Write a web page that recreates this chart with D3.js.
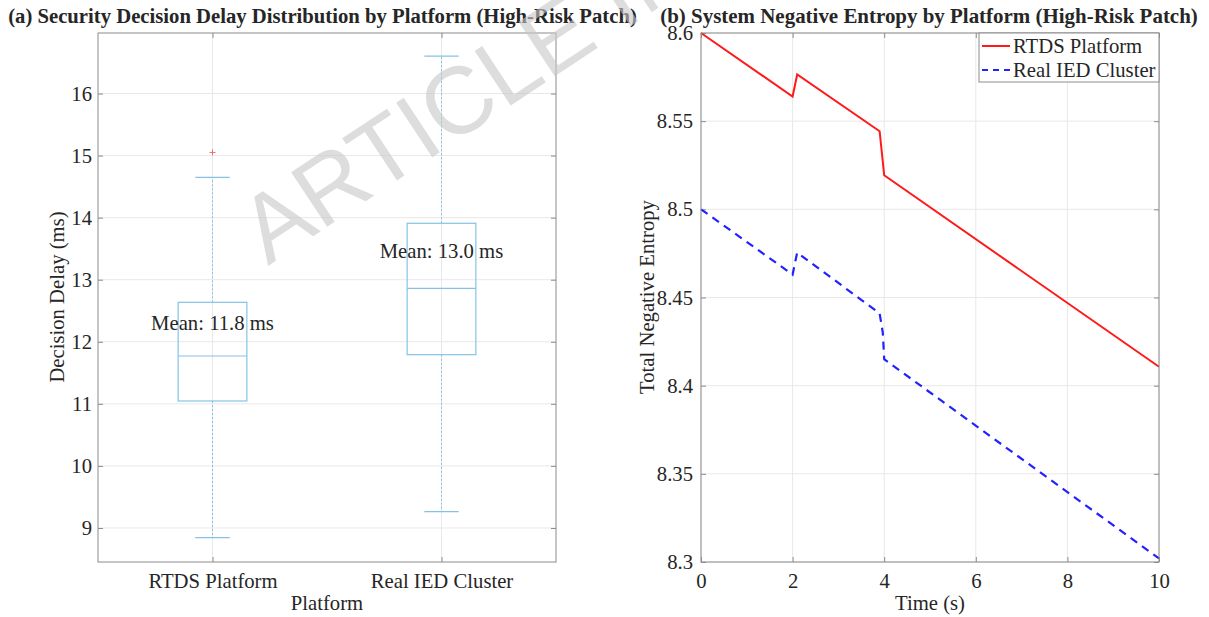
<!DOCTYPE html>
<html><head><meta charset="utf-8">
<script src="https://cdn.jsdelivr.net/npm/d3@7"></script>
<style>
body{margin:0;background:#fff}
svg text{font-family:"Liberation Serif","Times New Roman",serif;fill:#262626}
</style>
</head><body>
<svg id="c" width="1209" height="617"></svg>
<script>
// ---------- data (a) ----------
const platforms = ["RTDS Platform", "Real IED Cluster"];
const whiskerLow  = [8.844, 9.263];
const q1          = [11.046, 11.792];
const median      = [11.771, 12.862];
const q3          = [12.636, 13.909];
const whiskerHigh = [14.65, 16.604];
const outliers    = [[15.05], []];
const means       = [11.8, 12.96];
const delayTicks  = [9, 10, 11, 12, 13, 14, 15, 16];

// ---------- data (b) ----------
const rtdsTime    = [0, 2.0, 2.1, 3.9, 4.0, 10];
const rtdsEntropy = [8.6, 8.564, 8.5765, 8.5443, 8.5193, 8.4107];
const iedTime     = [0, 2.0, 2.1, 3.9, 3.97, 4.0, 10];
const iedEntropy  = [8.5, 8.463, 8.4755, 8.441, 8.430, 8.415, 8.302];
const timeTicks   = [0, 2, 4, 6, 8, 10];
const entropyTicks = [8.3, 8.35, 8.4, 8.45, 8.5, 8.55, 8.6];

const svg = d3.select("#c");
const FRAME = "#8c8c8c", GRID = "#e8e8e8", BOX = "#84c3e6";
const FS = "20.7px";

// ---------- panel (a) ----------
const xA = d3.scaleLinear([0.5, 2.5], [98, 556]);
const yA = d3.scaleLinear([8.452, 16.975], [562, 33]);
const gA = svg.append("g");

gA.selectAll(".gy").data(delayTicks).join("line")
  .attr("x1", xA.range()[0]).attr("x2", xA.range()[1])
  .attr("y1", d => yA(d)).attr("y2", d => yA(d))
  .attr("stroke", GRID);
gA.selectAll(".gx").data(platforms).join("line")
  .attr("x1", (d, i) => xA(i + 1)).attr("x2", (d, i) => xA(i + 1))
  .attr("y1", yA.range()[0]).attr("y2", yA.range()[1])
  .attr("stroke", GRID);

function styleAxis(g, showLabels) {
  g.select(".domain").remove();
  g.selectAll(".tick line").attr("stroke", FRAME);
  g.selectAll(".tick text").style("font-size", FS).attr("fill", "#262626");
  if (!showLabels) g.selectAll(".tick text").remove();
}

gA.append("g").attr("transform", `translate(${xA.range()[0]},0)`)
  .call(d3.axisLeft(yA).tickValues(delayTicks).tickSize(-5).tickPadding(6).tickFormat(d3.format("d")))
  .call(g => styleAxis(g, true));
gA.append("g").attr("transform", `translate(${xA.range()[1]},0)`)
  .call(d3.axisRight(yA).tickValues(delayTicks).tickSize(-5))
  .call(g => styleAxis(g, false));
gA.append("g").attr("transform", `translate(0,${yA.range()[0]})`)
  .call(d3.axisBottom(xA).tickValues([1, 2]).tickSize(-5).tickPadding(11).tickFormat(d => platforms[d - 1]))
  .call(g => styleAxis(g, true));
gA.append("g").attr("transform", `translate(0,${yA.range()[1]})`)
  .call(d3.axisTop(xA).tickValues([1, 2]).tickSize(-5))
  .call(g => styleAxis(g, false));

const boxHalf = 0.15, capHalf = 0.075;
platforms.forEach((p, i) => {
  const c = i + 1;
  const g = gA.append("g");
  g.append("line").attr("x1", xA(c)).attr("x2", xA(c))
    .attr("y1", yA(q3[i])).attr("y2", yA(whiskerHigh[i]))
    .attr("stroke", BOX).attr("stroke-dasharray", "2,2");
  g.append("line").attr("x1", xA(c)).attr("x2", xA(c))
    .attr("y1", yA(q1[i])).attr("y2", yA(whiskerLow[i]))
    .attr("stroke", BOX).attr("stroke-dasharray", "2,2");
  [whiskerHigh[i], whiskerLow[i]].forEach(v => {
    g.append("line").attr("x1", xA(c - capHalf)).attr("x2", xA(c + capHalf))
      .attr("y1", yA(v)).attr("y2", yA(v)).attr("stroke", BOX).attr("stroke-width", 1.2);
  });
  g.append("rect").attr("x", xA(c - boxHalf)).attr("width", xA(c + boxHalf) - xA(c - boxHalf))
    .attr("y", yA(q3[i])).attr("height", yA(q1[i]) - yA(q3[i]))
    .attr("fill", "none").attr("stroke", BOX).attr("stroke-width", 1.2);
  g.append("line").attr("x1", xA(c - boxHalf)).attr("x2", xA(c + boxHalf))
    .attr("y1", yA(median[i])).attr("y2", yA(median[i])).attr("stroke", BOX).attr("stroke-width", 1.2);
  outliers[i].forEach(v => {
    g.append("path").attr("d", `M${xA(c) - 3},${yA(v)}h6M${xA(c)},${yA(v) - 3}v6`)
      .attr("stroke", "#f07070").attr("stroke-width", 1);
  });
  g.append("text").attr("x", xA(c)).attr("y", yA(means[i] + 0.5)).attr("dy", "0.35em")
    .attr("text-anchor", "middle").style("font-size", FS)
    .text(`Mean: ${means[i].toFixed(1)} ms`);
});

gA.append("rect").attr("x", 98).attr("y", 33).attr("width", 556 - 98).attr("height", 562 - 33)
  .attr("fill", "none").attr("stroke", FRAME);

gA.append("text").attr("x", 327).attr("y", 610).attr("text-anchor", "middle").style("font-size", FS).text("Platform");
gA.append("text").attr("transform", "translate(57,297) rotate(-90)").attr("dy", "0.35em")
  .attr("text-anchor", "middle").style("font-size", FS).text("Decision Delay (ms)");

// ---------- panel (b) ----------
const xB = d3.scaleLinear([0, 10], [701, 1159]);
const yB = d3.scaleLinear([8.3, 8.6], [562, 33]);
const gB = svg.append("g");

gB.selectAll(".gy").data(entropyTicks).join("line")
  .attr("x1", xB.range()[0]).attr("x2", xB.range()[1])
  .attr("y1", d => yB(d)).attr("y2", d => yB(d)).attr("stroke", GRID);
gB.selectAll(".gx").data(timeTicks).join("line")
  .attr("x1", d => xB(d)).attr("x2", d => xB(d))
  .attr("y1", yB.range()[0]).attr("y2", yB.range()[1]).attr("stroke", GRID);

gB.append("g").attr("transform", `translate(${xB.range()[0]},0)`)
  .call(d3.axisLeft(yB).tickValues(entropyTicks).tickSize(-5).tickPadding(8).tickFormat(d3.format("~g")))
  .call(g => styleAxis(g, true));
gB.append("g").attr("transform", `translate(${xB.range()[1]},0)`)
  .call(d3.axisRight(yB).tickValues(entropyTicks).tickSize(-5))
  .call(g => styleAxis(g, false));
gB.append("g").attr("transform", `translate(0,${yB.range()[0]})`)
  .call(d3.axisBottom(xB).tickValues(timeTicks).tickSize(-5).tickPadding(11).tickFormat(d3.format("d")))
  .call(g => styleAxis(g, true));
gB.append("g").attr("transform", `translate(0,${yB.range()[1]})`)
  .call(d3.axisTop(xB).tickValues(timeTicks).tickSize(-5))
  .call(g => styleAxis(g, false));

const line = d3.line().x(d => xB(d[0])).y(d => yB(d[1]));
gB.append("path").datum(d3.zip(rtdsTime, rtdsEntropy)).attr("d", line)
  .attr("fill", "none").attr("stroke", "#ff1a1a").attr("stroke-width", 2);
gB.append("path").datum(d3.zip(iedTime, iedEntropy)).attr("d", line)
  .attr("fill", "none").attr("stroke", "#2222ff").attr("stroke-width", 2.2).attr("stroke-dasharray", "8,6");

gB.append("rect").attr("x", 701).attr("y", 33).attr("width", 1159 - 701).attr("height", 562 - 33)
  .attr("fill", "none").attr("stroke", FRAME);

const lg = gB.append("g");
lg.append("rect").attr("x", 979).attr("y", 33).attr("width", 180).attr("height", 49)
  .attr("fill", "#fff").attr("stroke", FRAME);
const legendItems = [
  {name: "RTDS Platform", color: "#ff1a1a", dash: null},
  {name: "Real IED Cluster", color: "#2222ff", dash: "6,5"}
];
legendItems.forEach((it, i) => {
  const y = 46 + i * 24;
  lg.append("line").attr("x1", 982).attr("x2", 1010).attr("y1", y).attr("y2", y)
    .attr("stroke", it.color).attr("stroke-width", 2).attr("stroke-dasharray", it.dash);
  lg.append("text").attr("x", 1013).attr("y", y).attr("dy", "0.35em").style("font-size", FS).text(it.name);
});

gB.append("text").attr("x", 930).attr("y", 610).attr("text-anchor", "middle").style("font-size", FS).text("Time (s)");
gB.append("text").attr("transform", "translate(647,297) rotate(-90)").attr("dy", "0.35em")
  .attr("text-anchor", "middle").style("font-size", FS).text("Total Negative Entropy");

// ---------- titles ----------
function fitTitle(txt, x0, x1, y) {
  const t = svg.append("text").attr("x", (x0 + x1) / 2).attr("y", y).attr("text-anchor", "middle")
    .style("font-size", "20px").style("font-weight", "bold").attr("fill", "#111").text(txt);
  const w = t.node().getComputedTextLength();
  t.style("font-size", (20 * (x1 - x0) / w).toFixed(2) + "px");
}
fitTitle("(a) Security Decision Delay Distribution by Platform (High-Risk Patch)", 8, 637, 23);
fitTitle("(b) System Negative Entropy by Platform (High-Risk Patch)", 660, 1198, 23);

// ---------- watermark ----------
svg.append("text").attr("transform", "translate(268,266) rotate(-33.5)")
  .style("font-family", "'Liberation Sans', Arial, sans-serif").style("font-size", "95px")
  .style("fill", "#c8c8c8").style("opacity", 0.6).text("ARTICLE IN PRESS");
</script>
</body></html>
